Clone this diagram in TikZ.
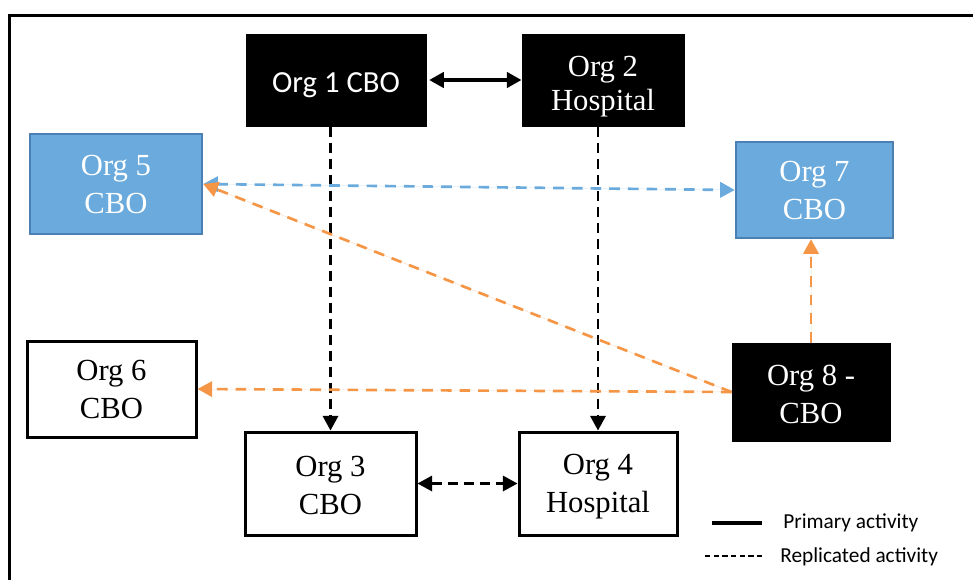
\documentclass[tikz,border=0pt]{standalone}
\usepackage{fontspec}
\setmainfont{Liberation Serif}
\newfontfamily\calib{Carlito}
\usetikzlibrary{arrows.meta}
\definecolor{bluefill}{RGB}{106,170,220}
\definecolor{blueedge}{RGB}{76,128,178}
\definecolor{orangec}{RGB}{245,150,70}
\newcommand\lowtext[2]{\raisebox{-#1}[\height][\depth]{\begin{tabular}{@{}c@{}}#2\end{tabular}}}
\newcommand\lowline[2]{\raisebox{-#1}[\height][\depth]{#2}}
\begin{document}
\begin{tikzpicture}[x=0.75pt,y=-0.75pt,
  box/.style={rectangle, draw, line width=2.25pt, align=center, inner sep=0pt,
    font=\fontsize{23}{28.5}\selectfont},
  blackbox/.style={box, fill=black, text=white},
  bluebox/.style={box, fill=bluefill, draw=blueedge, line width=1.8pt, text=white},
  whitebox/.style={box, fill=white, draw=black},
  tipa/.tip={Triangle[length=11pt,width=11.5pt]},
  prim/.style={line width=2.5pt, tipa-tipa, shorten <=2pt},
  repl/.style={line width=1.8pt, dash pattern=on 7.5pt off 4.5pt},
  orng/.style={draw=orangec, line width=2pt, dash pattern=on 8pt off 6pt},
  blu/.style={draw=bluefill, line width=2pt, dash pattern=on 8pt off 6pt},
  legtext/.style={anchor=west, inner sep=0pt, font=\calib\fontsize{16}{18}\selectfont}
]
\useasboundingbox (0,0) rectangle (973,579);
% outer frame
\draw[line width=2.25pt] (9,581) -- (9,15) -- (975,15);

\node[blackbox, minimum width=133.5pt, minimum height=67.5pt, font=\calib\fontsize{23}{28.5}\selectfont] (o1) at (336,80) {\lowline{4pt}{Org 1 CBO}};
\node[blackbox, minimum width=120pt, minimum height=67.5pt, font=\fontsize{23}{26}\selectfont] (o2) at (603,80) {\lowtext{5pt}{Org 2\\Hospital}};
\node[bluebox, minimum width=129pt, minimum height=75pt] (o5) at (116,184) {Org 5\\CBO};
\node[bluebox, minimum width=117.75pt, minimum height=72pt] (o7) at (814.5,190) {Org 7\\CBO};
\node[whitebox, minimum width=126.75pt, minimum height=72pt] (o6) at (111.5,389) {Org 6\\CBO};
\node[blackbox, minimum width=117pt, minimum height=72pt] (o8) at (811,392) {\lowtext{3.4pt}{Org 8 -\\CBO}};
\node[whitebox, minimum width=128.25pt, minimum height=77.25pt] (o3) at (330.5,483.5) {\lowtext{3pt}{Org 3\\CBO}};
\node[whitebox, minimum width=118.5pt, minimum height=77.25pt] (o4) at (598,483.5) {\lowtext{2pt}{Org 4\\Hospital}};

% connectors
\draw[prim] (o1) -- (o2);
\draw[repl, -tipa] (o3.north |- o1.south) -- (o3.north);
\draw[repl, -tipa] (o4.north |- o2.south) -- (o4.north);
\draw[repl, tipa-tipa] (o3) -- (o4);
\draw[blu, tipa-tipa, fill=bluefill] (o5.east) -- (o7.west);
\draw[orng, -tipa, fill=orangec] (o8.west) -- (o5.east);
\draw[orng, -tipa, fill=orangec] (o8.west) -- (o6.east);
\draw[orng, -tipa, fill=orangec] (o8.north) -- (o8.north |- o7.south);

% legend
\coordinate (l1a) at (712,523);
\coordinate (l1b) at (762,523);
\coordinate (l2a) at (705,556);
\coordinate (l2b) at (765,556);
\draw[line width=3pt] (l1a) -- (l1b);
\draw[line width=0.8pt, dash pattern=on 4pt off 2.5pt] (l2a) -- (l2b);
\node[legtext] (lt1) at (783,523) {Primary activity};
\node[legtext] (lt2) at (780,557) {Replicated activity};
\end{tikzpicture}
\end{document}
